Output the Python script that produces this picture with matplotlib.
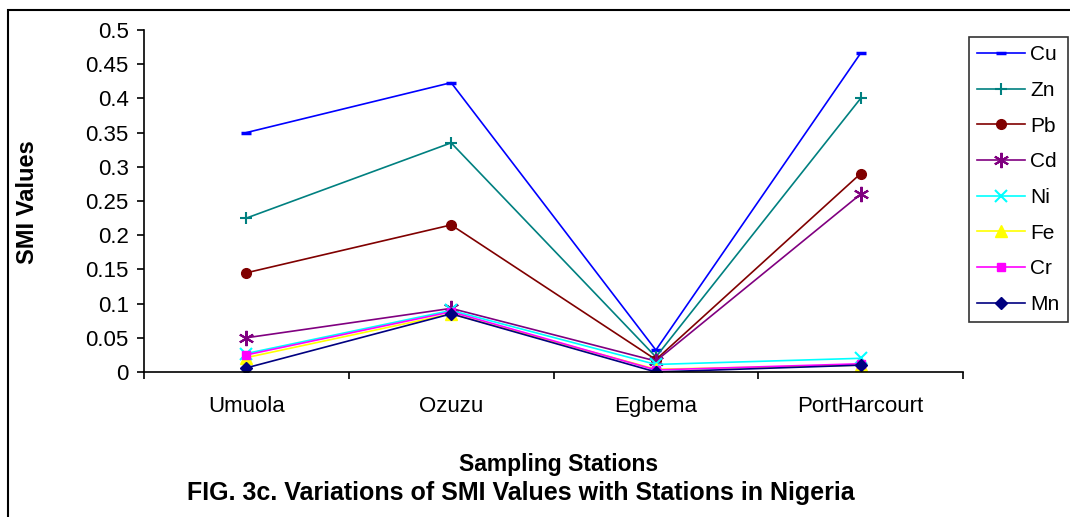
import matplotlib.pyplot as plt
from matplotlib.patches import Rectangle

plt.rcParams['font.family'] = ['Liberation Sans', 'DejaVu Sans']

stations = ['Umuola', 'Ozuzu', 'Egbema', 'PortHarcourt']
cu = [0.35, 0.423, 0.032, 0.466]
zn = [0.225, 0.335, 0.022, 0.40]
pb = [0.145, 0.215, 0.018, 0.29]
cd = [0.05, 0.093, 0.016, 0.26]
ni = [0.027, 0.09, 0.011, 0.02]
fe = [0.021, 0.085, 0.004, 0.01]
cr = [0.025, 0.088, 0.003, 0.012]
mn = [0.006, 0.085, 0.0, 0.01]

series = [
    ('Cu', cu, '#0000FF', '_', 7),
    ('Zn', zn, '#008080', '+', 9),
    ('Pb', pb, '#800000', 'o', 7),
    ('Cd', cd, '#800080', (6, 2, 0), 11),
    ('Ni', ni, '#00FFFF', 'x', 8),
    ('Fe', fe, '#FFFF00', '^', 8),
    ('Cr', cr, '#FF00FF', 's', 6),
    ('Mn', mn, '#000080', 'D', 6),
]

fig = plt.figure(figsize=(10.7, 5.17), dpi=100)
ax = fig.add_axes([0.1346, 0.2805, 0.7654, 0.6615])

x = range(len(stations))
for name, vals, col, mk, ms in series:
    ax.plot(x, vals, color=col, lw=1.2, marker=mk, ms=ms,
            mew=1.5 if mk in ('+', 'x', (6, 2, 0)) else 2.5 if mk == '_' else 1,
            mfc=col, mec=col, label=name)

ax.set_xlim(-0.5, 3.5)
ax.set_ylim(0, 0.5)
ax.set_yticks([i * 0.05 for i in range(11)])
ax.set_yticklabels(['0', '0.05', '0.1', '0.15', '0.2', '0.25', '0.3',
                    '0.35', '0.4', '0.45', '0.5'])
ax.set_xticks(list(x))
ax.set_xticklabels(stations)
ax.set_xticks([-0.5, 0.5, 1.5, 2.5, 3.5], minor=True)
ax.tick_params(axis='x', which='major', length=0, pad=17, labelsize=16)
ax.tick_params(axis='x', which='minor', length=5, width=1.2, direction='out')
ax.tick_params(axis='y', length=5, width=1.2, direction='out', labelsize=16, pad=6)

for s in ['top', 'right']:
    ax.spines[s].set_visible(False)
for s in ['left', 'bottom']:
    ax.spines[s].set_linewidth(1.2)

fig.text(28 / 1070, 1 - 202 / 517, 'SMI Values', rotation=90, ha='center',
         va='center', fontsize=17, fontweight='bold')
fig.text(0.522, 1 - 465 / 517, 'Sampling Stations', ha='center', va='center',
         fontsize=16.5, fontweight='bold')
fig.text(0.487, 1 - 493 / 517,
         'FIG. 3c. Variations of SMI Values with Stations in Nigeria',
         ha='center', va='center', fontsize=18, fontweight='bold')

leg = ax.legend(loc='upper left', bbox_to_anchor=(969 / 1070, 1 - 37 / 517),
                bbox_transform=fig.transFigure, fontsize=15, frameon=True,
                fancybox=False, edgecolor='black', borderpad=0.4,
                labelspacing=0.8, handlelength=2.3, handletextpad=0.25,
                borderaxespad=0)
leg.get_frame().set_linewidth(1.2)

# outer frame around the whole figure
fig.patches.append(Rectangle((8 / 1070, -0.1), 1.2, 1 - 10 / 517 + 0.1,
                             transform=fig.transFigure, fill=False,
                             edgecolor='black', lw=1.5))

fig.savefig('out.png', dpi=100)
